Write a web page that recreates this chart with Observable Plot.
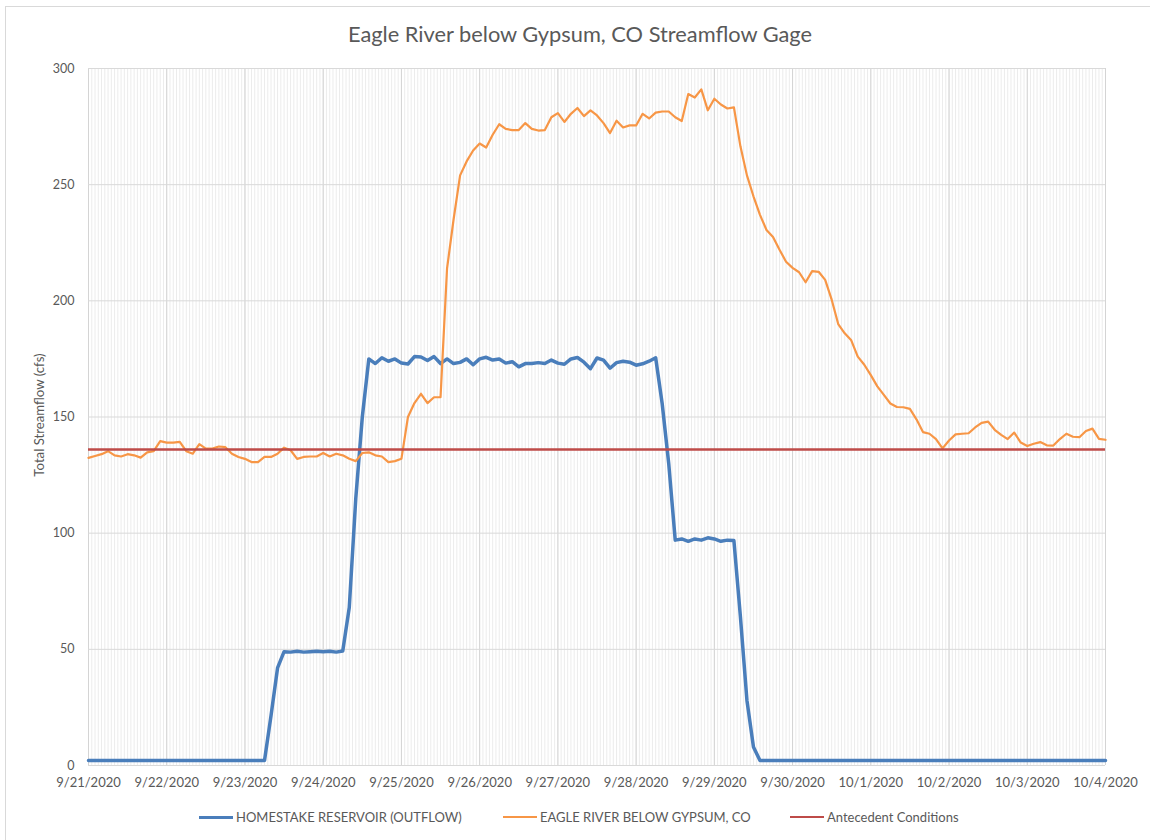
<!DOCTYPE html>
<html>
<head>
<meta charset="utf-8">
<script src="https://cdn.jsdelivr.net/npm/d3@7"></script>
<script src="https://cdn.jsdelivr.net/npm/@observablehq/plot@0.6"></script>
<style>
  html, body { margin: 0; padding: 0; background: #fff; }
  body { font-family: Lato, "Open Sans", sans-serif; color: #595959; }
  #wrap { position: relative; width: 1150px; height: 840px; overflow: hidden; }
  #frame { position: absolute; left: 5px; top: 6px; width: 1170px; height: 860px; border: 1px solid #d9d9d9; box-sizing: border-box; }
  #title { position: absolute; left: 0; top: 20px; width: 1160px; text-align: center; font-size: 21.8px; color: #595959; }
  #ylabel { position: absolute; left: 39px; top: 415px; transform: translate(-50%, -50%) rotate(-90deg); font-size: 13.2px; color: #595959; white-space: nowrap; }
  #chart { position: absolute; left: 0; top: 50px; }
  #legend { position: absolute; left: 0; top: 809px; width: 1150px; font-size: 13px; color: #595959; }
  .item { position: absolute; display: flex; align-items: center; white-space: nowrap; }
  .sw { display: inline-block; width: 34px; margin-right: 3px; }
</style>
</head>
<body>
<div id="wrap">
  <div id="frame"></div>
  <div id="title"></div>
  <div id="ylabel"></div>
  <div id="chart"></div>
  <div id="legend"></div>
</div>
<script>
// ---------- data ----------
const chartTitle = "Eagle River below Gypsum, CO Streamflow Gage";
const yLabel = "Total Streamflow (cfs)";
const days = ["2020-09-21","2020-09-22","2020-09-23","2020-09-24","2020-09-25","2020-09-26","2020-09-27",
              "2020-09-28","2020-09-29","2020-09-30","2020-10-01","2020-10-02","2020-10-03","2020-10-04"];
const dayLabels = ["9/21/2020","9/22/2020","9/23/2020","9/24/2020","9/25/2020","9/26/2020","9/27/2020",
                   "9/28/2020","9/29/2020","9/30/2020","10/1/2020","10/2/2020","10/3/2020","10/4/2020"];
const yTicks = [0, 50, 100, 150, 200, 250, 300];
const stepHours = 2; // readings every 2 hours starting 9/21/2020 00:00

const seriesNames = ["HOMESTAKE RESERVOIR (OUTFLOW)", "EAGLE RIVER BELOW GYPSUM, CO", "Antecedent Conditions"];

// HOMESTAKE RESERVOIR (OUTFLOW), cfs
const homestake = [
  // 9/21
  2.2,2.2,2.2,2.2,2.2,2.2,2.2,2.2,2.2,2.2,2.2,2.2,
  // 9/22
  2.2,2.2,2.2,2.2,2.2,2.2,2.2,2.2,2.2,2.2,2.2,2.2,
  // 9/23
  2.2,2.2,2.2,2.2,21.5,42,49,48.8,49.2,48.8,49,49.2,
  // 9/24
  49,49.2,48.8,49.3,68,115,150,175,173,175.5,174,175,
  // 9/25
  173.2,172.8,176,175.8,174.3,176,173,175,173,173.5,175,172.5,
  // 9/26
  175,175.7,174.5,175,173.2,173.8,171.6,173,173,173.4,173,174.5,
  // 9/27
  173.2,172.7,175,175.6,173.6,170.8,175.4,174.5,171,173.4,174,173.6,
  // 9/28
  172.3,172.9,174,175.5,155.7,130,97,97.5,96.5,97.5,97,98,
  // 9/29
  97.5,96.5,97,96.8,64,28,8,2.2,2.2,2.2,2.2,2.2,
  // 9/30
  2.2,2.2,2.2,2.2,2.2,2.2,2.2,2.2,2.2,2.2,2.2,2.2,
  // 10/1
  2.2,2.2,2.2,2.2,2.2,2.2,2.2,2.2,2.2,2.2,2.2,2.2,
  // 10/2
  2.2,2.2,2.2,2.2,2.2,2.2,2.2,2.2,2.2,2.2,2.2,2.2,
  // 10/3
  2.2,2.2,2.2,2.2,2.2,2.2,2.2,2.2,2.2,2.2,2.2,2.2,
  // 10/4
  2.2
];

// EAGLE RIVER BELOW GYPSUM, CO, cfs
const eagle = [
  // 9/21
  132.4,133.2,134,135.3,133.5,133,134,133.5,132.5,134.8,135.3,139.6,
  // 9/22
  139,139,139.3,135.3,134.2,138.3,136.4,136.4,137.3,137,134.2,132.8,
  // 9/23
  132,130.6,130.6,132.8,132.8,134.2,136.8,135.7,132,132.8,133,133,
  // 9/24
  134.5,133,134.2,133.5,132,131,134.5,134.8,133.5,133,130.6,131,
  // 9/25
  132,150,156,160,156,158.5,158.5,214,235,254,260,264.7,
  // 9/26
  267.7,266,271.5,276,274,273.5,273.5,276.5,274,273.3,273.5,279,
  // 9/27
  280.8,277,280.5,283,279.5,282,279.8,276.5,272.2,277.5,274.6,275.5,
  // 9/28
  275.5,280.5,278.5,281,281.5,281.5,279,277.4,289,287.5,291,282,
  // 9/29
  287,284.5,282.8,283.3,266.5,254,245,237,230.5,227.5,222,216.8,
  // 9/30
  214.2,212.3,208,212.8,212.5,209,200.5,190,186,183,176,172.5,
  // 10/1
  168,163.2,159.5,155.8,154.3,154.2,153.5,149,143.5,142.8,140.5,136.5,
  // 10/2
  139.9,142.5,142.8,143,145.5,147.5,148,144.5,142.3,140.5,143.3,139,
  // 10/3
  137.5,138.5,139.2,137.8,137.7,140.5,142.8,141.5,141.3,144,145,140.6,
  // 10/4
  140.2
];

// Antecedent Conditions, cfs
const antecedent = 136;

// ---------- styles ----------
const colors = ["#4A7EBB", "#F79646", "#BE4B48"];
const widths = [3.5, 2.2, 2.6];

// ---------- build ----------
const t0 = new Date(days[0] + "T00:00:00Z");
const toTime = i => new Date(t0.getTime() + i * stepHours * 3600e3);
const homestakeData = homestake.map((v, i) => ({t: toTime(i), v}));
const eagleData = eagle.map((v, i) => ({t: toTime(i), v}));
const dayDates = days.map(d => new Date(d + "T00:00:00Z"));
const labelOf = new Map(dayDates.map((d, i) => [+d, dayLabels[i]]));
const hours = d3.utcHour.range(dayDates[0], dayDates[dayDates.length - 1]);

document.getElementById("title").textContent = chartTitle;
document.getElementById("ylabel").textContent = yLabel;

const plot = Plot.plot({
  width: 1150,
  height: 745,
  marginTop: 18,
  marginBottom: 30,
  marginLeft: 88,
  marginRight: 45,
  style: {fontFamily: "Lato, 'Open Sans', sans-serif", color: "#595959", background: "transparent", overflow: "visible"},
  x: {type: "utc", domain: [dayDates[0], dayDates[dayDates.length - 1]]},
  y: {domain: [0, 300]},
  marks: [
    Plot.ruleX(hours, {stroke: "#ececec", strokeWidth: 1}),
    Plot.ruleX(dayDates, {stroke: "#d4d4d4", strokeWidth: 1}),
    Plot.ruleY(yTicks, {stroke: "#d9d9d9", strokeWidth: 1}),
    Plot.axisY({ticks: yTicks, tickSize: 0, tickPadding: 14, fontSize: 12.5, label: null}),
    Plot.axisX({ticks: dayDates, tickSize: 0, tickPadding: 12, fontSize: 13,
                tickFormat: d => labelOf.get(+d), label: null}),
    Plot.line(homestakeData, {x: "t", y: "v", stroke: colors[0], strokeWidth: widths[0], strokeLinejoin: "round"}),
    Plot.line(eagleData, {x: "t", y: "v", stroke: colors[1], strokeWidth: widths[1], strokeLinejoin: "round"}),
    Plot.ruleY([antecedent], {stroke: colors[2], strokeWidth: widths[2]})
  ]
});
document.getElementById("chart").appendChild(plot);

// legend
const legend = document.getElementById("legend");
const legendX = [199, 503, 790];
seriesNames.forEach((name, i) => {
  const item = document.createElement("div");
  item.className = "item";
  item.style.left = legendX[i] + "px";
  const sw = document.createElement("span");
  sw.className = "sw";
  sw.style.borderTop = `${widths[i]}px solid ${colors[i]}`;
  const label = document.createElement("span");
  label.textContent = name;
  item.appendChild(sw);
  item.appendChild(label);
  legend.appendChild(item);
});
</script>
</body>
</html>
